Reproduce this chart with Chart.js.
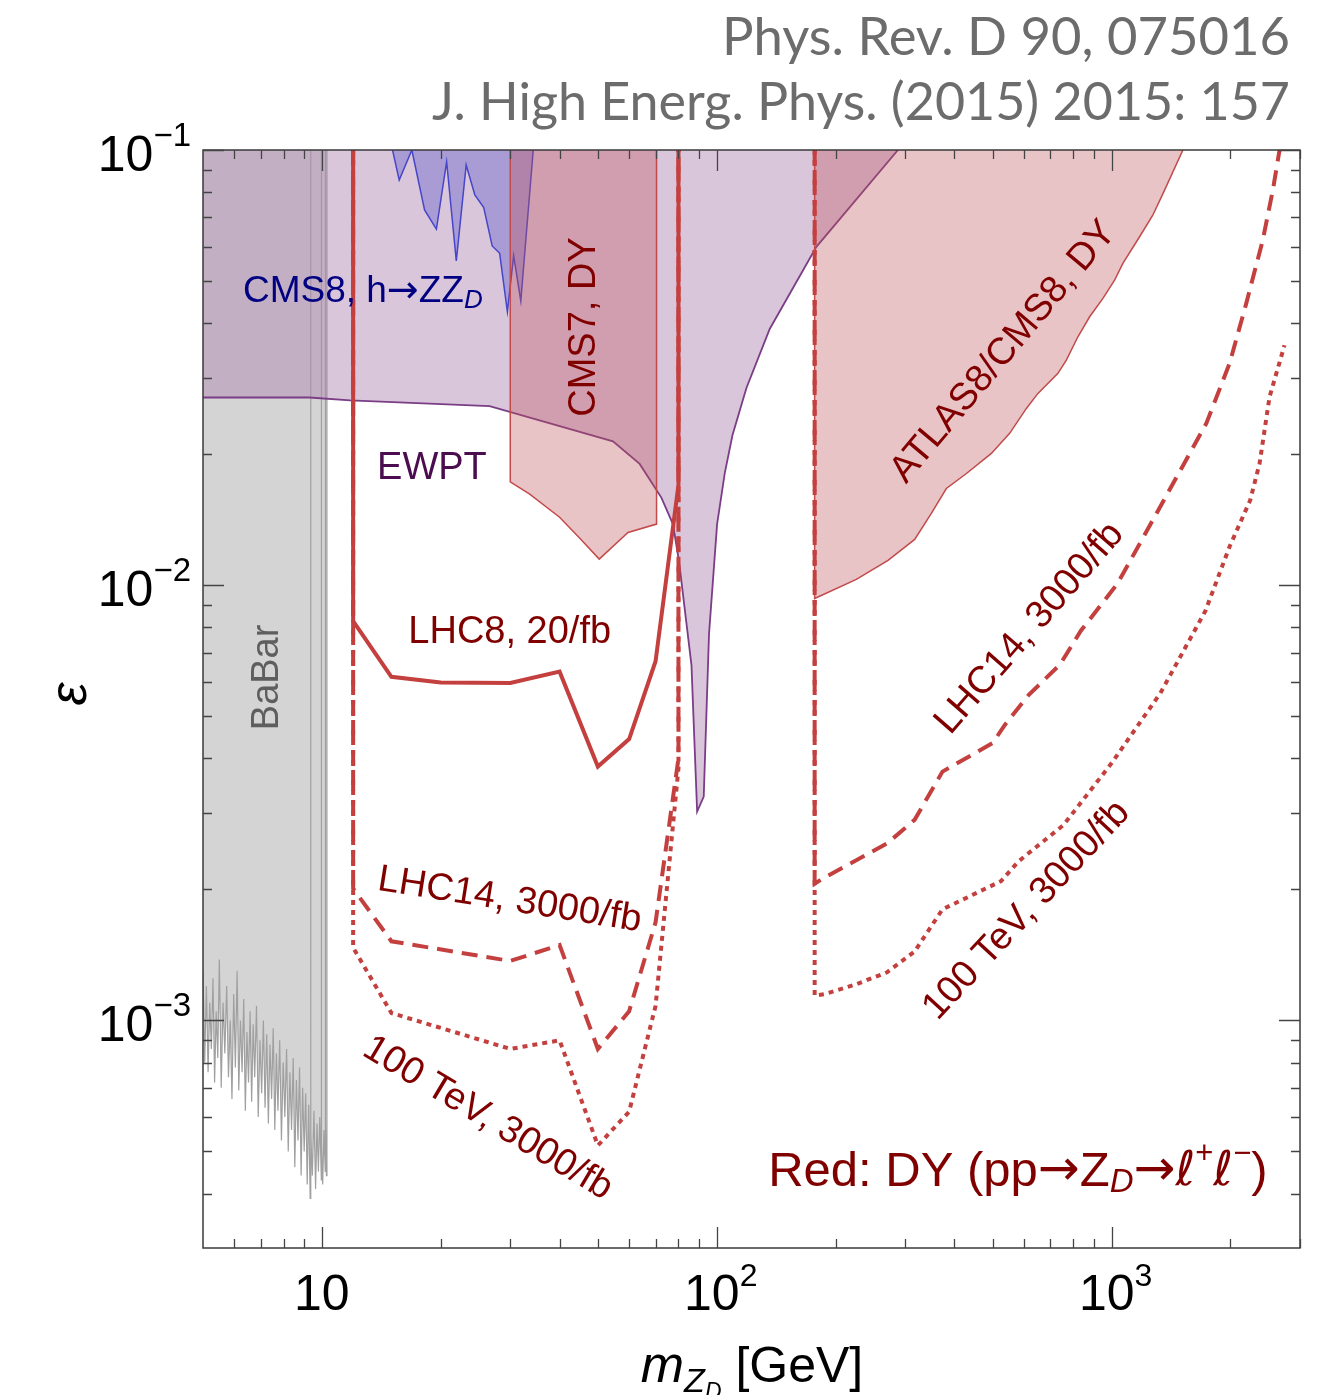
<!DOCTYPE html>
<html>
<head>
<meta charset="utf-8">
<script src="https://cdn.jsdelivr.net/npm/chart.js@4.4.0/dist/chart.umd.min.js"></script>
<style>
  body { margin: 0; background: #fff; }
  canvas { display: block; }
</style>
</head>
<body>
<canvas id="limits" width="1332" height="1395"></canvas>
<script>
// m_ZD [GeV] and epsilon

// BaBar: noisy lower edge, excluded above
const babarX = [5.00,5.05,5.10,5.15,5.20,5.25,5.30,5.35,5.40,5.45,5.50,5.56,5.62,5.68,5.74,5.80,5.86,5.92,5.98,6.04,
  6.10,6.16,6.22,6.28,6.34,6.40,6.46,6.52,6.58,6.64,6.70,6.76,6.83,6.90,6.97,7.04,7.11,7.18,7.25,7.32,
  7.39,7.46,7.53,7.60,7.67,7.74,7.82,7.90,7.98,8.06,8.14,8.22,8.30,8.38,8.46,8.54,8.62,8.70,8.78,8.86,
  8.94,9.02,9.10,9.18,9.26,9.34,
  9.37,9.37,9.38,9.46,9.55,9.64,9.72,9.80,9.88,9.97,9.97,9.98,10.05,10.12,10.20,10.20,10.22,10.27,10.30];
const babarY = [1.30e-3,8.0e-4,1.2e-3,7.6e-4,1.1e-3,8.6e-4,1.25e-3,7.2e-4,1.05e-3,8.2e-4,
  1.38e-3,7.0e-4,1.1e-3,8.4e-4,1.2e-3,7.4e-4,1.0e-3,6.6e-4,1.15e-3,7.8e-4,
  1.3e-3,6.9e-4,1.0e-3,7.6e-4,1.12e-3,6.2e-4,9.4e-4,7.2e-4,1.05e-3,6.5e-4,
  9.8e-4,7.4e-4,1.08e-3,6.0e-4,9.0e-4,6.8e-4,1.0e-3,6.3e-4,9.3e-4,5.8e-4,
  8.8e-4,6.6e-4,9.6e-4,5.6e-4,8.4e-4,6.2e-4,9.0e-4,5.3e-4,8.0e-4,6.0e-4,
  8.6e-4,5.0e-4,7.6e-4,5.6e-4,8.2e-4,4.6e-4,7.3e-4,5.3e-4,7.8e-4,4.4e-4,
  7.0e-4,5.0e-4,6.8e-4,4.2e-4,6.4e-4,3.9e-4,
  6.0e-4,0.1,5.5e-4,4.4e-4,6.2e-4,4.1e-4,5.8e-4,4.5e-4,6.0e-4,4.3e-4,0.1,5.2e-4,4.2e-4,5.6e-4,4.5e-4,0.1,5.8e-4,4.4e-4,0.1];

// EWPT: excluded above this curve
const ewptX = [5, 9.3, 11.8, 26.6, 54.6, 63.8, 72.4, 77.5, 80.3, 86.3, 89.2, 92.7, 95.6, 100.2, 104.8, 109.6, 118.9, 136.2, 178.8, 287.7];
const ewptY = [0.0270, 0.0270, 0.0266, 0.0258, 0.0214, 0.0190, 0.0159, 0.0138, 0.0113, 0.00655, 0.00302, 0.00327, 0.00773, 0.0138, 0.0181, 0.0221, 0.0284, 0.0388, 0.0599, 0.1];

// CMS8 h -> Z Z_D
const cms8X = [15.1, 15.7, 16.9, 18.2, 19.5, 20.7, 21.9, 23.2, 24.4, 25.7, 27.0, 28.2, 29.5, 30.6, 31.9, 34.3];
const cms8Y = [0.1, 0.0853, 0.1, 0.0728, 0.0658, 0.0940, 0.0556, 0.0924, 0.0788, 0.0737, 0.0602, 0.0579, 0.0425, 0.0571, 0.0450, 0.1];

// CMS7 Drell-Yan
const cms7X = [30, 30, 33.6, 40, 45, 50.4, 59.6, 70.4, 70.4];
const cms7Y = [0.1, 0.01727, 0.01619, 0.01433, 0.01282, 0.01148, 0.01322, 0.01382, 0.1];

// ATLAS8/CMS8 Drell-Yan
const atlasX = [177, 177, 225.7, 271.5, 317.2, 349.5, 381.5, 428.9, 496, 551.9, 608.4, 650.8, 731.3, 768, 821.6, 879.8, 950.6, 1017.6, 1068, 1177.3, 1272.4, 1362, 1515.6];
const atlasY = [0.1, 0.00932, 0.01031, 0.01141, 0.01274, 0.01462, 0.01668, 0.01806, 0.02008, 0.02233, 0.02548, 0.02759, 0.03067, 0.03291, 0.03723, 0.04138, 0.04561, 0.05026, 0.05489, 0.0632, 0.0709, 0.0809, 0.1];

// projections
const lhc8X = [12, 12, 15, 20, 30, 40, 50, 60, 70, 80, 80];
const lhc8Y = [0.1, 0.00827, 0.00616, 0.00598, 0.00596, 0.00633, 0.00383, 0.00443, 0.00669, 0.0170, 0.1];

const lhc14X = [12, 12, 15, 30, 40, 50, 60, 70, 80, 80];
const lhc14Y = [0.1, 0.00201, 0.00152, 0.00137, 0.00149, 0.00086, 0.00105, 0.00168, 0.0040, 0.1];
const lhc14HiX = [177, 177, 184, 270, 317, 373, 500, 536, 617, 740, 836, 1033, 1108, 1356, 1737, 1990, 2193, 2415, 2561, 2663];
const lhc14HiY = [0.1, 0.00206, 0.00211, 0.00255, 0.00289, 0.00373, 0.00434, 0.00477, 0.0056, 0.00657, 0.00786, 0.01006, 0.01127, 0.01568, 0.02353, 0.03235, 0.04442, 0.06211, 0.08091, 0.1];

const tev100X = [12, 12, 15, 30, 40, 50, 60, 70, 80, 80];
const tev100Y = [0.1, 0.00147, 0.00104, 0.00086, 0.00090, 0.000516, 0.000617, 0.00108, 0.0038, 0.1];
const tev100HiX = [177, 177, 188, 225, 270, 317, 373, 525, 581, 755, 1002, 1329, 1728, 1990, 2244, 2370, 2512, 2741];
const tev100HiY = [0.1, 0.00114, 0.00115, 0.00121, 0.00129, 0.00144, 0.0018, 0.00209, 0.00232, 0.00281, 0.00391, 0.00565, 0.00873, 0.01227, 0.01568, 0.01905, 0.02709, 0.0356];

// axis ticks
const xMajor = [10, 100, 1000];
const xMinor = [6, 7, 8, 9, 20, 30, 40, 50, 60, 70, 80, 90, 200, 300, 400, 500, 600, 700, 800, 900, 2000, 3000];
const yMajor = [0.1, 0.01, 0.001];
const yMinor = [0.0004, 0.0005, 0.0006, 0.0007, 0.0008, 0.0009, 0.002, 0.003, 0.004, 0.005, 0.006, 0.007, 0.008, 0.009,
  0.02, 0.03, 0.04, 0.05, 0.06, 0.07, 0.08, 0.09];
const xTickLabels = [['10', ''], ['10', '2'], ['10', '3']];
const yTickLabels = [['10', '\u22121'], ['10', '\u22122'], ['10', '\u22123']];

const pts = (xs, ys) => xs.map((x, i) => ({ x: x, y: ys[i] }));

const RED = '#c4403f';
const SANS = '"Liberation Sans", Arial, sans-serif';
const DJV = '"DejaVu Sans", sans-serif';
const DARKRED = '#800000';
const ARROW = '\u2192';

// text in the plot, placed at data coordinates
// piece: [text, size, dy, italic, family]
const notes = [
  { x: 6.31, y: 0.0472, align: 'left', rot: 0, color: '#000080',
    parts: [['CMS8, h', 37], [ARROW, 38, 0, false, DJV], ['ZZ', 37], ['D', 26, 9, true]] },
  { x: 46.3, y: 0.0392, rot: -90, color: DARKRED, parts: [['CMS7, DY', 38]] },
  { x: 19.0, y: 0.01858, rot: 0, color: '#4b0c50', parts: [['EWPT', 38]] },
  { x: 7.30, y: 0.00614, rot: -90, color: '#5e5e5e', parts: [['BaBar', 38]] },
  { x: 29.9, y: 0.0078, rot: 0, color: DARKRED, parts: [['LHC8, 20/fb', 38]] },
  { x: 29.9, y: 0.00189, rot: 9, color: DARKRED, parts: [['LHC14, 3000/fb', 38]] },
  { x: 26.3, y: 0.000596, rot: 31, color: DARKRED, parts: [['100 TeV, 3000/fb', 38]] },
  { x: 533, y: 0.03436, rot: -50, color: DARKRED, parts: [['ATLAS8/CMS8, DY', 38]] },
  { x: 620, y: 0.00796, rot: -49, color: DARKRED, parts: [['LHC14, 3000/fb', 38]] },
  { x: 609.5, y: 0.00179, rot: -47, color: DARKRED, parts: [['100 TeV, 3000/fb', 38]] },
  { x: 2483, y: 0.000448, align: 'right', rot: 0, color: DARKRED,
    parts: [['Red: DY (pp', 49], [ARROW, 50, 0, false, DJV], ['Z', 49], ['D', 33, 11, true],
            [ARROW, 50, 0, false, DJV], ['\u2113', 48, 0, true, DJV], ['+', 31, -18], ['\u2113', 48, 0, true, DJV], ['\u2212', 31, -18], [')', 49]] }
];

function fontOf(p) {
  return (p[3] ? 'italic ' : '') + p[1] + 'px ' + (p[4] || SANS);
}

// draws a run of text pieces
function drawRich(ctx, parts, x, y, align) {
  let w = 0;
  parts.forEach(p => { ctx.font = fontOf(p); w += ctx.measureText(p[0]).width; });
  let cx = align === 'left' ? x : align === 'right' ? x - w : x - w / 2;
  ctx.textAlign = 'left';
  parts.forEach(p => {
    ctx.font = fontOf(p);
    ctx.fillText(p[0], cx, y + (p[2] || 0));
    cx += ctx.measureText(p[0]).width;
  });
}

const overlay = {
  id: 'overlay',
  afterDraw(chart) {
    const ctx = chart.ctx;
    const a = chart.chartArea;
    const xs = chart.scales.x, ys = chart.scales.y;
    ctx.save();

    // frame
    ctx.strokeStyle = '#3a3a3a';
    ctx.lineWidth = 1.5;
    ctx.strokeRect(a.left, a.top, a.right - a.left, a.bottom - a.top);

    // inward ticks on all four sides
    ctx.strokeStyle = '#444';
    ctx.lineWidth = 1.3;
    const tick = (vals, len) => {
      vals.forEach(v => {
        const px = Math.round(xs.getPixelForValue(v)) + 0.5;
        ctx.beginPath();
        ctx.moveTo(px, a.bottom); ctx.lineTo(px, a.bottom - len);
        ctx.moveTo(px, a.top); ctx.lineTo(px, a.top + len);
        ctx.stroke();
      });
    };
    const ytick = (vals, len) => {
      vals.forEach(v => {
        const py = Math.round(ys.getPixelForValue(v)) + 0.5;
        ctx.beginPath();
        ctx.moveTo(a.left, py); ctx.lineTo(a.left + len, py);
        ctx.moveTo(a.right, py); ctx.lineTo(a.right - len, py);
        ctx.stroke();
      });
    };
    tick(xMajor, 21); tick(xMinor, 9);
    ytick(yMajor, 21); ytick(yMinor, 9);

    // tick labels
    ctx.fillStyle = '#000';
    ctx.textBaseline = 'alphabetic';
    xMajor.forEach((v, i) => {
      const px = xs.getPixelForValue(v);
      const lab = xTickLabels[i];
      const parts = [[lab[0], 50]];
      if (lab[1]) parts.push([lab[1], 32, -24]);
      drawRich(ctx, parts, px + (lab[1] ? 4 : 0), a.bottom + 62, 'center');
    });
    yMajor.forEach((v, i) => {
      const py = ys.getPixelForValue(v);
      const lab = yTickLabels[i];
      drawRich(ctx, [[lab[0], 50], [lab[1], 33, -25]], a.left - 12, py + 21, 'right');
    });

    // axis titles
    drawRich(ctx, [['m', 52, 0, true], ['Z', 34, 10, true], ['D', 23, 17, true], [' [GeV]', 50]], 752, 1382, 'center');
    ctx.save();
    ctx.translate(72, 694);
    ctx.rotate(-Math.PI / 2);
    ctx.textBaseline = 'middle';
    drawRich(ctx, [['\u03b5', 52, 0, true]], 0, 0, 'center');
    ctx.restore();

    // header (fit to the measured width of the original lines)
    ctx.fillStyle = '#6c6c6c';
    const head = [['Phys. Rev. D 90, 075016', 55, 568], ['J. High Energ. Phys. (2015) 2015: 157', 120, 858]];
    head.forEach(h => {
      ctx.font = '44px Lato, "Open Sans", sans-serif';
      const w = ctx.measureText(h[0]).width;
      const size = 44 * h[2] / w;
      ctx.font = size.toFixed(1) + 'px Lato, "Open Sans", sans-serif';
      ctx.textAlign = 'right';
      ctx.fillText(h[0], 1290, h[1]);
    });

    // labels in the plot
    notes.forEach(n => {
      const px = xs.getPixelForValue(n.x), py = ys.getPixelForValue(n.y);
      ctx.save();
      ctx.translate(px, py);
      ctx.rotate(n.rot * Math.PI / 180);
      ctx.fillStyle = n.color;
      ctx.textBaseline = 'middle';
      drawRich(ctx, n.parts, 0, 0, n.align || 'center');
      ctx.restore();
    });
    ctx.restore();
  }
};

const region = (label, xs, ys, fillColor, lineColor, lw, order) => ({
  label: label, data: pts(xs, ys), showLine: true, fill: 'end',
  backgroundColor: fillColor, borderColor: lineColor, borderWidth: lw, order: order
});
const curve = (label, xs, ys, dash) => ({
  label: label, data: pts(xs, ys), showLine: true, fill: false,
  borderColor: RED, borderWidth: 4, borderDash: dash, order: 1
});

new Chart(document.getElementById('limits'), {
  type: 'scatter',
  data: {
    datasets: [
      curve('LHC8, 20/fb', lhc8X, lhc8Y, []),
      curve('LHC14, 3000/fb', lhc14X, lhc14Y, [16, 9]),
      curve('LHC14, 3000/fb (high)', lhc14HiX, lhc14HiY, [16, 9]),
      curve('100 TeV, 3000/fb', tev100X, tev100Y, [5, 5]),
      curve('100 TeV, 3000/fb (high)', tev100HiX, tev100HiY, [5, 5]),
      region('ATLAS8/CMS8, DY', atlasX, atlasY, 'rgba(190,82,88,0.34)', '#c24a4a', 1.5, 4),
      region('CMS7, DY', cms7X, cms7Y, 'rgba(190,82,88,0.34)', '#c24a4a', 1.5, 4),
      region('CMS8, h->ZZD', cms8X, cms8Y, 'rgba(60,60,200,0.3)', '#4646c8', 1.5, 5),
      region('EWPT', ewptX, ewptY, 'rgba(175,135,177,0.48)', '#7a3d86', 1.8, 6),
      region('BaBar', babarX, babarY, '#d4d4d4', '#a0a0a0', 1.2, 7)
    ]
  },
  options: {
    responsive: false,
    animation: false,
    events: [],
    layout: { padding: { left: 203, right: 32, top: 150, bottom: 147 } },
    elements: { point: { radius: 0 }, line: { tension: 0 } },
    plugins: { legend: { display: false }, tooltip: { enabled: false }, title: { display: false } },
    scales: {
      x: { type: 'logarithmic', min: 5, max: 3000, display: false },
      y: { type: 'logarithmic', min: 3e-4, max: 0.1, display: false }
    }
  },
  plugins: [overlay]
});
</script>
</body>
</html>
